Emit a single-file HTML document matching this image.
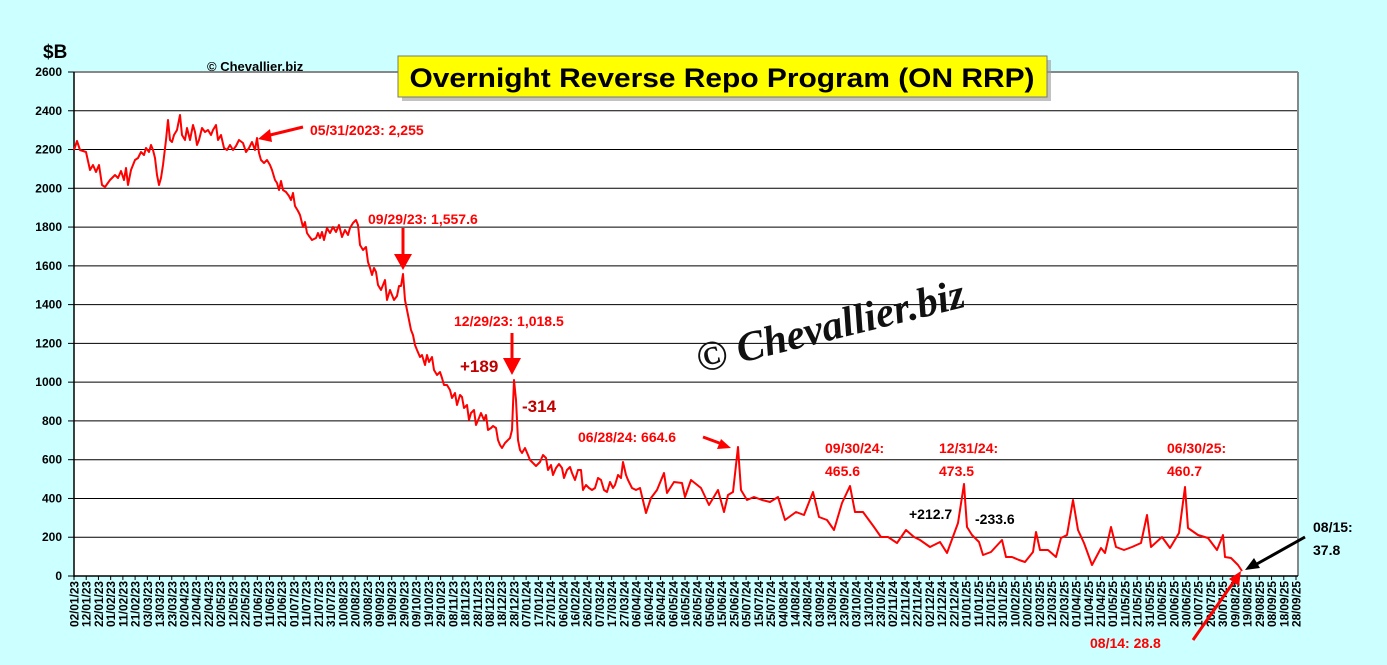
<!DOCTYPE html><html><head><meta charset="utf-8"><style>html,body{margin:0;padding:0;background:#ccffff;}svg{display:block}</style></head><body>
<svg id="s" width="1387" height="665" xmlns="http://www.w3.org/2000/svg" font-family="Liberation Sans, sans-serif">
<rect width="1387" height="665" fill="#ccffff"/>
<rect x="74" y="72" width="1224" height="504" fill="#fff"/>
<g id="grid" stroke="#000" stroke-width="1"></g>
<line x1="74" y1="72" x2="1298" y2="72" stroke="#888" stroke-width="2"/>
<line x1="1298" y1="72" x2="1298" y2="576" stroke="#888" stroke-width="2"/>
<line x1="74" y1="72" x2="74" y2="577" stroke="#000" stroke-width="1.5"/>
<line x1="74" y1="576" x2="1298" y2="576" stroke="#000" stroke-width="1.5"/>
<g id="yl" font-size="12" font-weight="bold" text-anchor="end"></g>
<g id="xl" font-size="12" font-weight="bold" text-anchor="end"></g>
<text x="43" y="58" font-size="19" font-weight="bold">$B</text>
<text x="207" y="71" font-size="13" font-weight="bold">© Chevallier.biz</text>
<rect x="402" y="60" width="649" height="41" fill="#999" opacity="0.6"/>
<rect x="398" y="56" width="649" height="41" fill="#ffff00" stroke="#777" stroke-width="1"/>
<text x="722" y="87" font-size="27" font-weight="bold" text-anchor="middle" textLength="625" lengthAdjust="spacingAndGlyphs">Overnight Reverse Repo Program (ON RRP)</text>
<text x="830" y="340" font-size="42" font-style="italic" font-weight="bold" font-family="Liberation Serif, serif" text-anchor="middle" transform="rotate(-14 830 325)" fill="#111" textLength="275" lengthAdjust="spacingAndGlyphs">© Chevallier.biz</text>
<polyline id="line" fill="none" stroke="#ff0000" stroke-width="2" stroke-linejoin="round"/>
<g fill="#ff0000" font-size="14" font-weight="bold">
<text x="310" y="135">05/31/2023: 2,255</text>
<text x="368" y="224">09/29/23: 1,557.6</text>
<text x="454" y="326">12/29/23: 1,018.5</text>
<text x="578" y="442">06/28/24: 664.6</text>
<text x="825" y="453">09/30/24:</text><text x="825" y="476">465.6</text>
<text x="939" y="453">12/31/24:</text><text x="939" y="476">473.5</text>
<text x="1167" y="453">06/30/25:</text><text x="1167" y="476">460.7</text>
<text x="1090" y="648">08/14: 28.8</text>
</g>
<g fill="#c00000" font-size="17" font-weight="bold"><text x="460" y="372">+189</text><text x="522" y="412">-314</text></g>
<g fill="#000" font-size="14" font-weight="bold"><text x="909" y="519">+212.7</text><text x="975" y="524">-233.6</text><text x="1313" y="532">08/15:</text><text x="1313" y="555">37.8</text></g>
<g stroke="#ff0000" stroke-width="3" fill="#ff0000">
<line x1="303" y1="127" x2="266" y2="136"/><polygon points="258,139 270,129 272,142" stroke="none"/>
<line x1="403" y1="228" x2="403" y2="258"/><polygon points="394,254 412,254 403,270" stroke="none"/>
<line x1="512" y1="333" x2="512" y2="362"/><polygon points="503,358 521,358 512,375" stroke="none"/>
<line x1="703" y1="437" x2="722" y2="444"/><polygon points="731,448 717,449 721,439" stroke="none"/>
<line x1="1193" y1="640" x2="1235" y2="580"/><polygon points="1241,571 1239,586 1229,579" stroke="none"/>
</g>
<g stroke="#000" stroke-width="3" fill="#000">
<line x1="1305" y1="537" x2="1255" y2="565"/><polygon points="1245,570 1254,558 1260,568" stroke="none"/>
</g>
</svg>
<script>
var g=document.getElementById('grid'),yl=document.getElementById('yl'),xl=document.getElementById('xl'),ns='http://www.w3.org/2000/svg';
for(var v=0;v<=2600;v+=200){var y=576-v*0.19385;if(v>0&&v<2600){var l=document.createElementNS(ns,'line');l.setAttribute('x1',74);l.setAttribute('x2',1298);l.setAttribute('y1',y);l.setAttribute('y2',y);g.appendChild(l);}
var t=document.createElementNS(ns,'text');t.setAttribute('x',62);t.setAttribute('y',y+4);t.textContent=v;yl.appendChild(t);
var tk=document.createElementNS(ns,'line');tk.setAttribute('x1',68);tk.setAttribute('x2',74);tk.setAttribute('y1',y);tk.setAttribute('y2',y);g.appendChild(tk);}
var d0=new Date(Date.UTC(2023,0,2));
for(var i=0;i<=100;i++){var x=74+i*12.22;var d=new Date(d0.getTime()+i*10*86400000);
var s=('0'+d.getUTCDate()).slice(-2)+'/'+('0'+(d.getUTCMonth()+1)).slice(-2)+'/'+String(d.getUTCFullYear()).slice(2);
var t=document.createElementNS(ns,'text');t.setAttribute('transform','translate('+(x+4.5)+',581) rotate(-90)');t.setAttribute('textLength','46');t.setAttribute('lengthAdjust','spacingAndGlyphs');t.textContent=s;xl.appendChild(t);
var tk=document.createElementNS(ns,'line');tk.setAttribute('x1',x);tk.setAttribute('x2',x);tk.setAttribute('y1',576);tk.setAttribute('y2',580);g.appendChild(tk);}
var p=[74,150,77,141,80,150,86,152,90,170,93,165,96,172,99,165,102,185,105,187,110,180,115,175,118,178,121,171,124,180,126,168,128,185,131,170,135,160,138,158,141,152,144,155,146,148,149,152,151,145,153,150,155,158,157,175,159,185,161,178,163,165,166,140,168,120,170,140,172,142,174,135,177,130,180,115,182,135,185,140,187,128,190,140,193,125,195,132,197,145,199,140,202,128,205,132,208,130,211,135,213,130,216,125,218,140,221,135,224,148,227,150,230,145,233,150,236,146,239,140,243,143,246,152,249,148,252,142,255,150,257,138,259,153,261,160,264,163,267,160,270,165,272,170,275,180,277,183,279,190,281,181,283,190,286,192,289,196,291,200,293,193,295,206,298,211,300,215,303,227,305,222,307,233,309,236,312,240,316,238,318,233,320,238,322,232,324,240,327,228,330,233,333,227,336,232,339,225,342,237,345,230,348,235,350,228,353,223,356,220,358,225,360,245,363,250,366,247,368,262,370,268,372,275,374,268,376,272,378,285,381,290,383,285,385,280,387,300,390,290,392,295,394,300,397,296,399,286,401,286,403,274,405,300,407,310,409,320,411,330,413,335,415,345,417,350,420,357,422,355,425,365,427,355,429,362,432,357,434,370,437,375,440,372,442,378,444,385,447,385,450,390,452,398,455,393,457,405,460,395,462,397,464,408,467,405,469,420,471,413,474,410,476,425,479,418,481,413,484,420,486,415,488,430,491,428,493,426,496,428,498,440,500,445,502,448,505,443,507,441,510,438,512,430,514,380,516,400,518,440,520,450,522,453,525,448,528,455,530,460,533,463,536,466,540,462,543,455,546,458,548,470,551,465,553,475,556,468,559,464,562,468,564,478,567,470,570,467,572,473,575,480,578,470,581,470,583,490,586,485,589,488,592,490,595,488,598,478,601,480,604,490,607,492,610,482,613,488,615,485,618,475,621,478,623,462,626,475,628,480,632,488,636,490,640,488,646,513,651,498,657,490,664,473,667,493,674,482,682,483,685,497,691,480,701,488,709,505,718,490,724,512,728,495,733,492,738,447,741,490,747,500,754,497,762,500,770,502,778,497,785,520,796,512,804,515,813,492,819,517,827,520,834,530,842,503,850,486,855,512,863,512,874,527,881,537,888,537,897,543,906,530,914,537,920,540,930,547,940,542,947,553,958,523,964,484,967,527,972,535,979,542,983,555,991,552,1002,540,1006,557,1012,557,1019,560,1025,562,1033,552,1036,532,1040,550,1048,550,1056,557,1061,538,1067,535,1073,500,1078,530,1084,543,1092,565,1101,548,1105,553,1111,527,1116,547,1124,550,1132,547,1141,543,1147,515,1151,547,1162,537,1170,548,1179,533,1185,487,1188,528,1198,535,1208,538,1217,550,1223,535,1225,557,1231,558,1238,565,1242,571];
var pts=[];for(var i=0;i<p.length;i+=2)pts.push(p[i]+','+p[i+1]);document.getElementById('line').setAttribute('points',pts.join(' '));
</script>
</body></html>
